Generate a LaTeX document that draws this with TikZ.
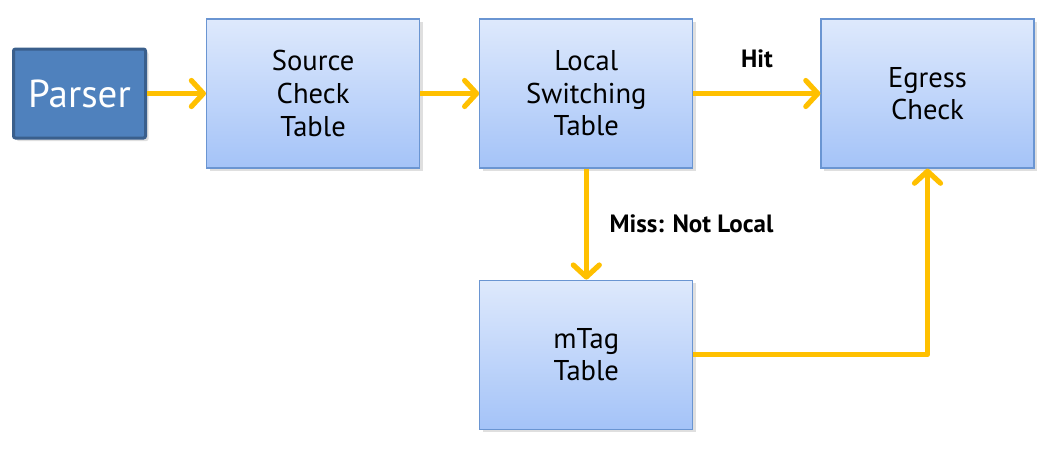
\documentclass[tikz,border=0pt]{standalone}
\usepackage{fontspec}
\setmainfont{PT Sans}
\usepackage{xcolor}
\usepackage{tikz}
\usetikzlibrary{arrows.meta,positioning,shadows}

\definecolor{flowarrow}{HTML}{FFC000}
\definecolor{tabletop}{HTML}{DEE9FC}
\definecolor{tablebot}{HTML}{A4C3F8}
\definecolor{tableedge}{HTML}{6A95D2}
\definecolor{parserfill}{HTML}{4F81BD}
\definecolor{parseredge}{HTML}{3A5F8C}

\begin{document}
\begin{tikzpicture}[x=0.5pt,y=-0.5pt,>={Straight Barb[length=6pt,width=13pt,line cap=round,line join=round]},
   every node/.style={font=\fontsize{14.3}{16.3}\selectfont},
   tbl/.style={draw=tableedge,line width=0.6pt,top color=tabletop,bottom color=tablebot,align=center,
      minimum width=106.5pt,minimum height=74.5pt,inner sep=0pt,
      drop shadow={opacity=0.25,shadow xshift=1.5pt,shadow yshift=-1.5pt}},
   flow/.style={->,draw=flowarrow,line width=2.6pt},
   lbl/.style={font=\fontsize{12.5}{15}\bfseries\selectfont}]
\useasboundingbox (0,0) rectangle (1049,450);
\node[draw=parseredge,line width=1.5pt,fill=parserfill,rounded corners=1pt,text=white,
   minimum width=66pt,minimum height=44.5pt,inner sep=0pt,font=\fontsize{19.5}{22}\selectfont,
   drop shadow={opacity=0.25,shadow xshift=1.5pt,shadow yshift=-1.5pt}] (parser) at (79.5,93.5) {Parser};
\node[tbl,right=29.5pt of parser] (source) {Source\\Check\\Table};
\node[tbl,right=29.5pt of source] (switch) {Local\\Switching\\Table};
\node[tbl,right=63.5pt of switch] (egress) {Egress\\Check};
\node[tbl,below=55.5pt of switch] (mtag) {mTag\\Table};
\draw[flow] (parser)--(source);
\draw[flow] (source)--(switch);
\draw[flow] (switch)--node[lbl,above=8pt] {Hit} (egress);
\draw[flow] (switch)--node[lbl,right=7pt] {Miss: Not Local} (mtag);
\draw[flow,line join=round] (mtag.east) -| (egress.south);
\end{tikzpicture}
\end{document}
